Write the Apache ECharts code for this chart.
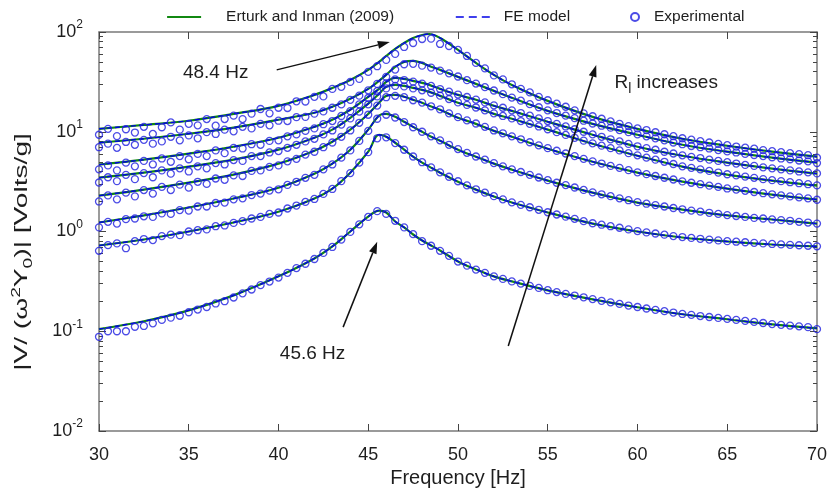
<!DOCTYPE html>
<html>
<head>
<meta charset="utf-8">
<script src="https://cdn.jsdelivr.net/npm/echarts@6/dist/echarts.min.js"></script>
<style>
  html, body { margin: 0; padding: 0; background: #fff; }
  #chart { width: 830px; height: 498px; }
</style>
</head>
<body>
<div id="chart"></div>
<script>
// 频率点 (Hz) —— 模型曲线
var modelFreq = [30, 32.5, 35, 37.5, 40, 42, 43, 44, 45, 45.6, 46, 46.5, 47, 47.5, 48, 48.4, 49, 50, 51, 52, 53, 55, 57.5, 60, 62.5, 65, 67.5, 70];

// 模型曲线，从最小负载电阻(最低)到最大(最高)
var model1 = [0.105, 0.126, 0.162, 0.229, 0.355, 0.537, 0.708, 1.00, 1.41, 1.62, 1.55, 1.26, 1.10, 0.933, 0.813, 0.741, 0.646, 0.501, 0.417, 0.355, 0.316, 0.257, 0.209, 0.174, 0.148, 0.132, 0.117, 0.107];
var model2 = [0.724, 0.832, 1.00, 1.23, 1.58, 2.14, 2.69, 3.89, 6.31, 9.33, 8.91, 7.76, 6.61, 5.62, 4.90, 4.47, 3.89, 3.16, 2.63, 2.24, 1.95, 1.55, 1.20, 1.00, 0.871, 0.794, 0.741, 0.708];
var model3 = [1.23, 1.45, 1.74, 2.14, 2.75, 3.80, 4.79, 6.61, 10.5, 14.5, 15.1, 14.1, 12.6, 11.2, 10.0, 9.12, 8.13, 6.61, 5.62, 4.79, 4.17, 3.24, 2.45, 1.95, 1.66, 1.45, 1.32, 1.20];
var model4 = [2.29, 2.63, 3.09, 3.72, 4.79, 6.46, 7.94, 10.5, 15.1, 19.5, 22.9, 23.4, 22.4, 20.9, 19.5, 18.2, 16.6, 13.8, 12.0, 10.2, 8.91, 6.76, 5.01, 3.89, 3.16, 2.69, 2.34, 2.09];
var model5 = [3.47, 3.89, 4.47, 5.25, 6.61, 8.71, 10.5, 13.8, 19.1, 24.0, 28.2, 29.5, 28.8, 27.5, 26.3, 25.1, 22.9, 19.5, 17.4, 15.1, 13.5, 10.5, 7.59, 5.75, 4.47, 3.72, 3.24, 2.88];
var model6 = [4.68, 5.25, 6.03, 7.08, 8.71, 11.2, 13.2, 16.6, 22.4, 26.9, 31.6, 34.7, 33.9, 32.4, 30.9, 29.5, 26.9, 23.4, 20.9, 18.2, 16.2, 12.6, 9.33, 7.08, 5.75, 4.90, 4.27, 3.80];
var model7 = [7.76, 8.51, 9.55, 11.0, 13.2, 15.5, 17.8, 21.4, 26.9, 32.4, 37.2, 44.7, 50.1, 51.3, 49.0, 45.7, 41.7, 35.5, 30.2, 25.7, 21.9, 16.2, 12.0, 9.33, 7.41, 6.31, 5.50, 4.90];
var model8 = [10.7, 11.7, 12.9, 15.1, 18.2, 23.4, 27.5, 33.1, 41.7, 50.1, 57.5, 67.6, 77.6, 87.1, 93.3, 95.5, 87.1, 66.1, 49.0, 37.2, 29.5, 20.4, 14.1, 10.7, 8.51, 7.24, 6.31, 5.62];

// 实验点频率 (Hz)
var expFreq = [30, 30.5, 31, 31.5, 32, 32.5, 33, 33.5, 34, 34.5, 35, 35.5, 36, 36.5, 37, 37.5, 38, 38.5, 39, 39.5,
  40, 40.5, 41, 41.5, 42, 42.5, 43, 43.5, 44, 44.5, 45, 45.5, 46, 46.5, 47, 47.5, 48, 48.5, 49, 49.5,
  50, 50.5, 51, 51.5, 52, 52.5, 53, 53.5, 54, 54.5, 55, 55.5, 56, 56.5, 57, 57.5, 58, 58.5, 59, 59.5,
  60, 60.5, 61, 61.5, 62, 62.5, 63, 63.5, 64, 64.5, 65, 65.5, 66, 66.5, 67, 67.5, 68, 68.5, 69, 69.5, 70];

// 实验数据
var exp1 = [0.088, 0.1, 0.1, 0.1, 0.111, 0.113, 0.12, 0.13, 0.137, 0.143, 0.155, 0.165, 0.175, 0.19, 0.2, 0.218, 0.24, 0.262, 0.29, 0.315,
  0.345, 0.385, 0.43, 0.475, 0.53, 0.61, 0.7, 0.83, 0.99, 1.18, 1.4, 1.6, 1.5, 1.28, 1.1, 0.94, 0.8, 0.72, 0.64, 0.57,
  0.5, 0.455, 0.415, 0.385, 0.355, 0.335, 0.316, 0.3, 0.285, 0.272, 0.258, 0.247, 0.237, 0.228, 0.219, 0.21, 0.202, 0.195, 0.188, 0.181,
  0.175, 0.169, 0.164, 0.159, 0.154, 0.149, 0.146, 0.142, 0.139, 0.136, 0.133, 0.13, 0.127, 0.124, 0.121, 0.118, 0.116, 0.114, 0.112, 0.11, 0.105];
var exp2 = [0.64, 0.73, 0.76, 0.68, 0.8, 0.84, 0.82, 0.9, 0.93, 0.92, 1.0, 1.03, 1.05, 1.13, 1.15, 1.22, 1.27, 1.35, 1.4, 1.5,
  1.55, 1.7, 1.82, 1.98, 2.12, 2.38, 2.67, 3.2, 3.85, 4.9, 6.25, 8.6, 8.8, 7.7, 6.6, 5.65, 4.95, 4.4, 3.92, 3.54,
  3.19, 2.9, 2.65, 2.45, 2.26, 2.1, 1.96, 1.85, 1.75, 1.65, 1.56, 1.48, 1.41, 1.34, 1.27, 1.21, 1.17, 1.13, 1.09, 1.05,
  1.01, 0.98, 0.955, 0.93, 0.9, 0.88, 0.862, 0.845, 0.83, 0.815, 0.8, 0.79, 0.78, 0.77, 0.76, 0.75, 0.742, 0.735, 0.728, 0.72, 0.71];
var exp3 = [1.1, 1.25, 1.2, 1.33, 1.35, 1.42, 1.4, 1.52, 1.5, 1.64, 1.62, 1.78, 1.78, 1.93, 1.95, 2.1, 2.15, 2.32, 2.4, 2.57,
  2.65, 2.93, 3.15, 3.45, 3.7, 4.2, 4.7, 5.5, 6.5, 8.1, 10.2, 13.5, 14.8, 13.9, 12.5, 11.1, 10.0, 9.0, 8.2, 7.4,
  6.7, 6.15, 5.65, 5.25, 4.85, 4.5, 4.2, 3.95, 3.7, 3.48, 3.27, 3.08, 2.92, 2.76, 2.61, 2.47, 2.36, 2.26, 2.15, 2.06,
  1.97, 1.9, 1.84, 1.78, 1.72, 1.67, 1.62, 1.58, 1.54, 1.5, 1.46, 1.43, 1.4, 1.37, 1.35, 1.32, 1.3, 1.28, 1.25, 1.23, 1.2];
var exp4 = [2.0, 2.3, 2.1, 2.45, 2.25, 2.6, 2.4, 2.8, 2.6, 2.95, 2.75, 3.15, 3.0, 3.4, 3.3, 3.65, 3.6, 4.05, 4.1, 4.45,
  4.6, 5.05, 5.35, 5.9, 6.3, 7.0, 7.8, 8.9, 10.3, 12.3, 14.8, 18.3, 22.2, 22.9, 22.2, 20.7, 19.6, 18.0, 16.8, 15.3,
  14.0, 13.0, 12.1, 11.2, 10.3, 9.65, 9.0, 8.4, 7.85, 7.3, 6.85, 6.45, 6.05, 5.7, 5.35, 5.05, 4.8, 4.55, 4.35, 4.12,
  3.92, 3.76, 3.6, 3.46, 3.32, 3.18, 3.08, 2.98, 2.88, 2.8, 2.7, 2.63, 2.56, 2.49, 2.42, 2.36, 2.3, 2.25, 2.2, 2.15, 2.08];
var exp5 = [3.1, 3.5, 3.2, 3.7, 3.35, 3.85, 3.5, 4.1, 3.8, 4.3, 4.0, 4.5, 4.3, 4.85, 4.7, 5.2, 5.1, 5.7, 5.7, 6.2,
  6.4, 6.9, 7.4, 8.0, 8.5, 9.4, 10.3, 11.8, 13.6, 15.9, 18.8, 22.6, 27.2, 28.8, 28.5, 27.2, 26.0, 24.6, 23.0, 21.3,
  19.7, 18.6, 17.5, 16.4, 15.3, 14.4, 13.6, 12.8, 12.0, 11.3, 10.6, 9.9, 9.3, 8.7, 8.15, 7.65, 7.25, 6.85, 6.5, 6.1,
  5.8, 5.5, 5.25, 5.0, 4.75, 4.5, 4.35, 4.2, 4.05, 3.9, 3.75, 3.65, 3.55, 3.45, 3.35, 3.27, 3.2, 3.12, 3.05, 2.98, 2.9];
var exp6 = [4.2, 4.6, 4.1, 4.9, 4.5, 5.1, 4.7, 5.4, 5.0, 5.7, 5.3, 6.0, 5.7, 6.5, 6.1, 6.9, 6.8, 7.5, 7.4, 8.1,
  8.2, 9.0, 9.4, 10.2, 10.8, 11.9, 12.8, 14.4, 16.1, 18.8, 21.8, 25.5, 30.5, 33.5, 33.0, 31.8, 30.4, 28.8, 26.8, 25.2,
  23.6, 22.3, 21.0, 19.7, 18.4, 17.4, 16.4, 15.4, 14.5, 13.6, 12.8, 12.0, 11.3, 10.6, 10.0, 9.4, 8.9, 8.4, 8.0, 7.55,
  7.15, 6.85, 6.6, 6.3, 6.05, 5.8, 5.6, 5.45, 5.25, 5.1, 4.95, 4.8, 4.65, 4.55, 4.4, 4.3, 4.2, 4.1, 4.0, 3.92, 3.82];
var exp7 = [7.0, 7.6, 6.9, 7.9, 7.4, 8.3, 7.6, 8.0, 8.9, 8.2, 9.2, 8.6, 9.9, 9.5, 10.5, 10.1, 11.2, 10.8, 12.0, 11.6,
  12.9, 12.8, 14.0, 14.1, 15.2, 16.0, 17.4, 18.8, 20.9, 23.0, 26.0, 30.2, 35.5, 42.0, 47.5, 48.0, 46.0, 44.0, 41.0, 38.5,
  35.8, 32.9, 30.4, 28.0, 25.9, 23.8, 22.0, 20.5, 18.9, 17.6, 16.4, 15.4, 14.5, 13.7, 12.9, 12.1, 11.5, 11.0, 10.4, 9.9,
  9.4, 9.0, 8.6, 8.2, 7.8, 7.5, 7.2, 7.0, 6.8, 6.55, 6.35, 6.2, 6.0, 5.85, 5.7, 5.55, 5.4, 5.3, 5.15, 5.05, 4.85];
var exp8 = [9.33, 10.7, 9.04, 10.6, 9.82, 11.2, 9.51, 11.1, 12.4, 10.5, 12.0, 11.6, 13.4, 11.5, 13.4, 14.5, 13.4, 15.2, 16.9, 15.3,
  17.4, 17.3, 20.2, 20.1, 22.4, 22.6, 26.9, 28.2, 31.6, 33.9, 39.8, 45.4, 52.5, 60.3, 70.8, 77.6, 85.1, 85.7, 75.9, 72.4,
  66.1, 57.5, 49.0, 43.2, 36.7, 33.5, 29.9, 26.9, 24.8, 22.4, 20.7, 19.1, 17.8, 16.4, 15.3, 14.3, 13.5, 12.7, 12.0, 11.4,
  10.8, 10.4, 9.89, 9.44, 9.02, 8.61, 8.32, 8.04, 7.80, 7.55, 7.33, 7.11, 6.92, 6.76, 6.55, 6.38, 6.24, 6.10, 5.96, 5.82, 5.50];

// 坐标刻度
var xTicks = [30, 35, 40, 45, 50, 55, 60, 65, 70];
var yMajor = [0.01, 0.1, 1, 10, 100];
var yMinor = [0.02, 0.03, 0.04, 0.05, 0.06, 0.07, 0.08, 0.09, 0.2, 0.3, 0.4, 0.5, 0.6, 0.7, 0.8, 0.9,
  2, 3, 4, 5, 6, 7, 8, 9, 20, 30, 40, 50, 60, 70, 80, 90];

var models = [model1, model2, model3, model4, model5, model6, model7, model8];
var exps = [exp1, exp2, exp3, exp4, exp5, exp6, exp7, exp8];

var FONT = 'Liberation Sans, Arial, sans-serif';
var TXT = '#1e1e1e';
var FRAME = '#7a7a7a';

function pairs(xs, ys) {
  var out = [];
  for (var i = 0; i < xs.length; i++) out.push([xs[i], ys[i]]);
  return out;
}
function lg(v) { return Math.log(v) / Math.LN10; }

var series = [];
// 解析模型 —— 绿色实线
models.forEach(function (m) {
  series.push({
    name: 'Erturk and Inman (2009)',
    type: 'line',
    data: pairs(modelFreq, m),
    smooth: 0.35,
    symbol: 'none',
    lineStyle: { color: '#118811', width: 2.2 },
    itemStyle: { color: '#118811' },
    z: 2
  });
});
// 有限元 —— 蓝色虚线
models.forEach(function (m) {
  series.push({
    name: 'FE model',
    type: 'line',
    data: pairs(modelFreq, m),
    smooth: 0.35,
    symbol: 'none',
    lineStyle: { color: '#0000e6', width: 1.4, type: [5, 3] },
    itemStyle: { color: '#0000e6' },
    z: 3
  });
});
// 实验点 —— 空心圆
exps.forEach(function (e) {
  series.push({
    name: 'Experimental',
    type: 'scatter',
    data: pairs(expFreq, e),
    symbol: 'circle',
    symbolSize: 7,
    itemStyle: { color: 'rgba(0,0,0,0)', borderColor: '#1f1fe0', borderWidth: 1.3 },
    z: 4
  });
});

function legendItem(name, left, w, padLeft, extra) {
  var l = {
    data: [name],
    left: left,
    top: 9,
    padding: 0,
    itemWidth: w,
    itemHeight: 8,
    selectedMode: false,
    textStyle: { fontSize: 15.5, color: TXT, fontFamily: FONT, padding: [0, 0, 0, padLeft] }
  };
  for (var k in extra) l[k] = extra[k];
  return l;
}

// 刻度轴 (只画刻度) —— 对数指数坐标
function tickAxis(pos, values, len) {
  return {
    type: 'value',
    min: -2,
    max: 2,
    position: pos,
    offset: 0,
    axisLine: { show: true, onZero: false, lineStyle: { opacity: 0 } },
    axisTick: { show: true, inside: true, length: len, lineStyle: { color: '#444' }, customValues: values.map(lg) },
    axisLabel: { show: false },
    splitLine: { show: false }
  };
}

var chart = echarts.init(document.getElementById('chart'));
var option = {
  animation: false,
  backgroundColor: '#fff',
  textStyle: { fontFamily: FONT },
  legend: [
    legendItem('Erturk and Inman (2009)', 166, 34, 20, { itemStyle: { opacity: 0 }, lineStyle: { width: 2.2 } }),
    legendItem('FE model', 455, 34, 9, { itemStyle: { opacity: 0 }, lineStyle: { type: [8, 5], width: 1.6 } }),
    legendItem('Experimental', 630, 28, 0, {})
  ],
  grid: { left: 99, right: 11, top: 32, bottom: 67 },
  xAxis: [{
    type: 'value',
    min: 30,
    max: 70,
    interval: 5,
    position: 'bottom',
    axisLine: { onZero: false, lineStyle: { color: FRAME, width: 1.5 } },
    axisTick: { inside: true, length: 7, lineStyle: { color: '#444' } },
    axisLabel: {
      margin: 15, fontSize: 18, color: TXT, fontFamily: FONT,
      customValues: xTicks
    },
    splitLine: { show: false },
    name: 'Frequency [Hz]',
    nameLocation: 'middle',
    nameGap: 35,
    nameTextStyle: { fontSize: 20, color: TXT, fontFamily: FONT }
  }, {
    type: 'value',
    min: 30,
    max: 70,
    interval: 5,
    position: 'top',
    axisLine: { onZero: false, lineStyle: { color: FRAME, width: 1.5 } },
    axisTick: { inside: true, length: 7, lineStyle: { color: '#444' } },
    axisLabel: { show: false },
    splitLine: { show: false }
  }],
  yAxis: [{
    type: 'log',
    logBase: 10,
    min: 0.01,
    max: 100,
    position: 'left',
    axisLine: { show: true, onZero: false, lineStyle: { color: FRAME, width: 1.5 } },
    axisTick: { show: false },
    axisLabel: {
      margin: 16,
      customValues: yMajor,
      formatter: function (v) {
        var e = Math.round(lg(v));
        return '{b|10}{e|' + e + '}';
      },
      rich: {
        b: { fontSize: 18, color: TXT, fontFamily: FONT, lineHeight: 26 },
        e: { fontSize: 12, color: TXT, fontFamily: FONT, lineHeight: 26, verticalAlign: 'top' }
      }
    },
    splitLine: { show: false }
  }, {
    type: 'log',
    logBase: 10,
    min: 0.01,
    max: 100,
    position: 'right',
    axisLine: { show: true, onZero: false, lineStyle: { color: FRAME, width: 1.5 } },
    axisTick: { show: false },
    axisLabel: { show: false },
    splitLine: { show: false }
  },
  tickAxis('left', yMajor, 7),
  tickAxis('left', yMinor, 4),
  tickAxis('right', yMajor, 7),
  tickAxis('right', yMinor, 4)
  ],
  series: series
};
chart.setOption(option);

// 注释：文字和箭头 (数据坐标)
var notes = [
  { text: '48.4 Hz', at: [36.5, 38.9], from: [39.9, 41.7], to: [46.2, 79.4] },
  { text: '45.6 Hz', at: [41.9, 0.059], from: [43.6, 0.11], to: [45.5, 0.79] },
  { text: '{r|R}{s|l}{r| increases}', at: [61.6, 30.9], from: [52.8, 0.071], to: [57.7, 46.8] }
];

function px(p) {
  return chart.convertToPixel({ xAxisIndex: 0, yAxisIndex: 0 }, p);
}

var graphics = [];
notes.forEach(function (n) {
  var a = px(n.from), b = px(n.to);
  var dx = b[0] - a[0], dy = b[1] - a[1];
  var len = Math.sqrt(dx * dx + dy * dy);
  var ux = dx / len, uy = dy / len;
  var hl = 12, hw = 4;
  var bx = b[0] - ux * hl, by = b[1] - uy * hl;
  graphics.push({
    type: 'line',
    shape: { x1: a[0], y1: a[1], x2: bx, y2: by },
    style: { stroke: '#111', lineWidth: 1.5 },
    z: 10
  });
  graphics.push({
    type: 'polygon',
    shape: { points: [[b[0], b[1]], [bx - uy * hw, by + ux * hw], [bx + uy * hw, by - ux * hw]] },
    style: { fill: '#111' },
    z: 10
  });
  var c = px(n.at);
  graphics.push({
    type: 'text',
    x: c[0],
    y: c[1],
    style: {
      text: n.text,
      fill: TXT,
      font: '19px ' + FONT,
      align: 'center',
      verticalAlign: 'middle',
      rich: {
        r: { fontSize: 19, fontFamily: FONT, fill: TXT, lineHeight: 26 },
        s: { fontSize: 14, fontFamily: FONT, fill: TXT, lineHeight: 26, verticalAlign: 'bottom' }
      }
    },
    z: 10
  });
});

// y 轴标题 (竖排，略拉长)
graphics.push({
  type: 'text',
  x: 22,
  y: 252,
  rotation: Math.PI / 2,
  scaleX: 1.48,
  style: {
    text: '|V/ (ω{sup|2}Y{sub|0})| [Volts/g]',
    fill: TXT,
    font: '19px ' + FONT,
    align: 'center',
    verticalAlign: 'middle',
    rich: {
      sup: { fontSize: 13, fontFamily: FONT, fill: TXT, verticalAlign: 'top', lineHeight: 25 },
      sub: { fontSize: 13, fontFamily: FONT, fill: TXT, verticalAlign: 'bottom', lineHeight: 25 }
    }
  },
  z: 10
});
chart.setOption({ graphic: graphics });
</script>
